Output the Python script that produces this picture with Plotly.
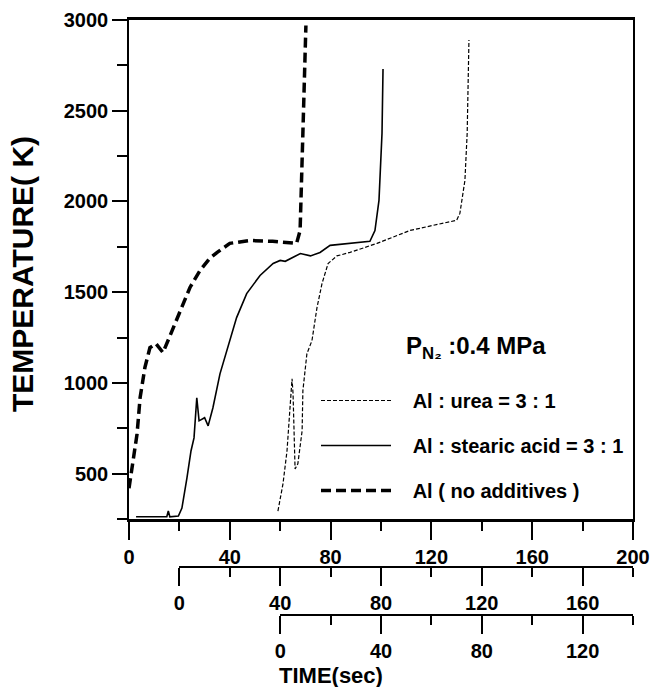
import plotly.graph_objects as go

# ---- data (time read on the top/main time axis, seconds; temperature in K)
t_none = [0, 0.4, 1.6, 3.2, 4.4, 6.3, 8.3, 10.7, 13.5, 16.3, 20.2, 24.2, 28.2, 32, 35, 40, 48, 57, 66.5, 67.9, 69, 70.2]
T_none = [420, 460, 554, 719, 918, 1084, 1194, 1216, 1167, 1260, 1388, 1526, 1620, 1686, 1719, 1769, 1785, 1780, 1769, 1840, 2376, 2970]

t_stearic = [2.8, 15, 15.6, 16.2, 19.6, 21, 23, 24.6, 25.8, 26.9, 27.8, 29, 30, 31.4, 33.3, 36.1, 38.8, 42.7, 46.7, 52, 57.2, 60, 62, 65.1, 68, 72, 75.8, 79.8, 87.7, 95.6, 97.6, 99.2, 100.4, 100.8]
T_stearic = [262, 262, 295, 262, 266, 310, 476, 625, 697, 918, 791, 800, 808, 763, 863, 1050, 1177, 1360, 1492, 1592, 1658, 1675, 1670, 1691, 1713, 1700, 1719, 1758, 1769, 1780, 1840, 2006, 2376, 2730]

t_urea = [59.1, 61.1, 62.7, 63.9, 64.7, 65.1, 65.5, 65.9, 67, 68.7, 69, 70.6, 72.6, 74.6, 76.6, 79, 82.5, 87.7, 98.4, 111.5, 120.6, 130, 131.3, 133.3, 134.2, 134.9]
T_urea = [294, 443, 625, 846, 1023, 940, 719, 526, 554, 736, 957, 1161, 1233, 1415, 1548, 1658, 1700, 1719, 1769, 1840, 1868, 1896, 1934, 2116, 2376, 2890]

names = ["Al : urea = 3 : 1", "Al : stearic acid = 3 : 1", "Al ( no additives )"]

main_ticks = [0, 40, 80, 120, 160, 200]
axis2_ticks = [0, 40, 80, 120, 160]
axis3_ticks = [0, 40, 80, 120]
y_ticks = [500, 1000, 1500, 2000, 2500, 3000]

FONT = "Liberation Sans, Arial, Helvetica, sans-serif"
PAD = "\u00a0\u00a0\u00a0"

fig = go.Figure()
fig.add_trace(go.Scatter(x=t_urea, y=T_urea, mode="lines", name=PAD + names[0], legendgroup="a",
                         line=dict(color="black", width=1.2, dash="4px,2px")))
fig.add_trace(go.Scatter(x=t_stearic, y=T_stearic, mode="lines", name=PAD + names[1], legendgroup="b",
                         line=dict(color="black", width=1.6)))
fig.add_trace(go.Scatter(x=t_none, y=T_none, mode="lines", name=PAD + names[2], legendgroup="c",
                         line=dict(color="black", width=3.5, dash="10px,5px")))
# empty traces so that the two offset time axes get drawn
fig.add_trace(go.Scatter(x=[], y=[], xaxis="x2", yaxis="y", showlegend=False, hoverinfo="skip"))
fig.add_trace(go.Scatter(x=[], y=[], xaxis="x3", yaxis="y", showlegend=False, hoverinfo="skip"))

tickfont = dict(family=FONT, size=20, color="black", weight="bold")

# pixels: plot left 129, right 633, top 20, y-axis bottom 519, lowest axis 615
H_AREA = 595.0
def py(p):
    return (615 - p) / H_AREA
def px(p):
    return (p - 129) / 504.0

common_x = dict(showgrid=False, zeroline=False, showline=True, linecolor="black",
                ticks="outside", tickcolor="black", tickwidth=2, ticklen=18,
                tickfont=tickfont, tickmode="array", automargin=False,
                minor=dict(ticks="outside", dtick=20, ticklen=9, tickwidth=2, tickcolor="black", showgrid=False))

fig.update_layout(
    width=650, height=687,
    margin=dict(l=129, r=17, t=20, b=72, autoexpand=False),
    paper_bgcolor="white", plot_bgcolor="rgba(0,0,0,0)",
    font=dict(family=FONT, color="black"),
    xaxis=dict(range=[0, 200], domain=[0, 1], anchor="y", tickvals=main_ticks,
               linewidth=3, mirror=True, **common_x),
    xaxis2=dict(range=[0, 180], domain=[0.1, 1], anchor="free", position=py(567),
                tickvals=axis2_ticks, linewidth=2, **common_x),
    xaxis3=dict(range=[0, 140], domain=[0.3, 1], anchor="free", position=0,
                tickvals=axis3_ticks, linewidth=2, **common_x),
    yaxis=dict(range=[250, 3000], domain=[py(519), 1], anchor="x", automargin=False,
               showgrid=False, zeroline=False, showline=True, linecolor="black", linewidth=1.5,
               mirror=True, ticks="outside", tickcolor="black", tickwidth=2, ticklen=15,
               tickvals=y_ticks, tickfont=tickfont,
               minor=dict(ticks="outside", dtick=250, ticklen=10, tickwidth=2, tickcolor="black", showgrid=False)),
    showlegend=True,
    legend=dict(x=px(316), y=py(381), xanchor="left", yanchor="top",
                bgcolor="rgba(0,0,0,0)", itemwidth=70, tracegroupgap=16,
                traceorder="grouped",
                font=dict(family=FONT, size=20, color="black", weight="bold")),
    annotations=[
        dict(text="P<sub>N₂</sub> :0.4 MPa", x=px(404), y=py(347), xref="paper", yref="paper",
             xanchor="left", yanchor="middle", showarrow=False,
             font=dict(family=FONT, size=24, color="black", weight="bold")),
        dict(text="TIME(sec)", x=px(331), y=py(675), xref="paper", yref="paper",
             xanchor="center", yanchor="middle", showarrow=False,
             font=dict(family=FONT, size=22, color="black", weight="bold")),
        dict(text="TEMPERATURE( K)", x=px(22), y=py(274), xref="paper", yref="paper",
             xanchor="center", yanchor="middle", showarrow=False, textangle=-90,
             font=dict(family=FONT, size=30, color="black", weight="bold")),
    ],
)

fig.write_html("out.html", config={"displayModeBar": False},
               post_script="document.body.style.margin='0';")
